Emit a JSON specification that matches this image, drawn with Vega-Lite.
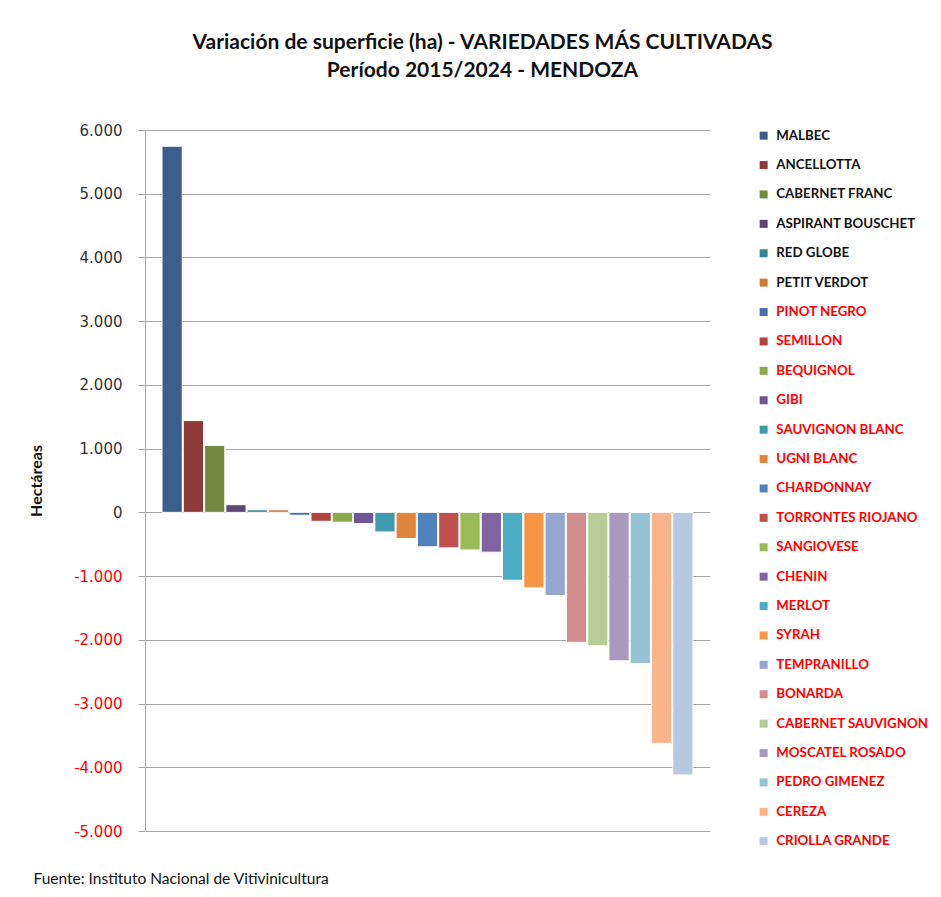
{
  "$schema": "https://vega.github.io/schema/vega-lite/v6.json",
  "width": 565,
  "height": 701,
  "autosize": {"type": "none"},
  "padding": {"left": 145, "top": 130, "right": 231, "bottom": 66},
  "background": "white",
  "config": {
    "locale": {"number": {"decimal": ",", "thousands": ".", "grouping": [3], "currency": ["$", ""], "minus": "-"}},
    "view": {"stroke": null},
    "font": "Lato"
  },
  "title": {
    "text": ["Variación de superficie (ha) - VARIEDADES MÁS CULTIVADAS", "Período 2015/2024 - MENDOZA"],
    "font": "Lato",
    "fontSize": 21,
    "fontWeight": "bold",
    "color": "#111111",
    "lineHeight": 28,
    "anchor": "middle",
    "dx": 55,
    "offset": 42
  },
  "data": {
    "values": [
      {"variedad": "MALBEC", "ha": 5745},
      {"variedad": "ANCELLOTTA", "ha": 1440},
      {"variedad": "CABERNET FRANC", "ha": 1050},
      {"variedad": "ASPIRANT BOUSCHET", "ha": 120},
      {"variedad": "RED GLOBE", "ha": 40},
      {"variedad": "PETIT VERDOT", "ha": 40},
      {"variedad": "PINOT NEGRO", "ha": -45},
      {"variedad": "SEMILLON", "ha": -140},
      {"variedad": "BEQUIGNOL", "ha": -155},
      {"variedad": "GIBI", "ha": -175},
      {"variedad": "SAUVIGNON BLANC", "ha": -307},
      {"variedad": "UGNI BLANC", "ha": -410},
      {"variedad": "CHARDONNAY", "ha": -540},
      {"variedad": "TORRONTES RIOJANO", "ha": -557},
      {"variedad": "SANGIOVESE", "ha": -590},
      {"variedad": "CHENIN", "ha": -625},
      {"variedad": "MERLOT", "ha": -1065},
      {"variedad": "SYRAH", "ha": -1185},
      {"variedad": "TEMPRANILLO", "ha": -1305},
      {"variedad": "BONARDA", "ha": -2040},
      {"variedad": "CABERNET SAUVIGNON", "ha": -2095},
      {"variedad": "MOSCATEL ROSADO", "ha": -2330},
      {"variedad": "PEDRO GIMENEZ", "ha": -2375},
      {"variedad": "CEREZA", "ha": -3625},
      {"variedad": "CRIOLLA GRANDE", "ha": -4120}
    ]
  },
  "mark": {"type": "bar", "stroke": "white", "strokeWidth": 1},
  "encoding": {
    "x": {
      "field": "variedad",
      "type": "nominal",
      "sort": null,
      "scale": {"paddingInner": 0.05, "paddingOuter": 0.8},
      "axis": {
        "labels": false,
        "ticks": false,
        "domain": false,
        "title": "Fuente: Instituto Nacional de Vitivinicultura",
        "titleFont": "Lato",
        "titleFontSize": 15.5,
        "titleFontWeight": "normal",
        "titleColor": "#111111",
        "titleAlign": "left",
        "titleAnchor": "start",
        "titleBaseline": "middle",
        "titleX": -112,
        "titleY": 47
      }
    },
    "y": {
      "field": "ha",
      "type": "quantitative",
      "scale": {"domain": [-5000, 6000], "nice": false, "zero": true},
      "axis": {
        "values": [-5000, -4000, -3000, -2000, -1000, 0, 1000, 2000, 3000, 4000, 5000, 6000],
        "format": ",d",
        "labelFont": "DejaVu Sans",
        "labelFontSize": 15,
        "labelColor": {"condition": {"test": "datum.value < 0", "value": "#FF0000"}, "value": "#333333"},
        "labelPadding": 16,
        "tickSize": 7,
        "tickColor": "#A6A6A6",
        "domainColor": "#A6A6A6",
        "gridColor": "#A6A6A6",
        "grid": true,
        "title": "Hectáreas",
        "titleFont": "Lato",
        "titleFontSize": 16,
        "titleFontWeight": "bold",
        "titleColor": "#111111",
        "titlePadding": 29
      }
    },
    "color": {
      "field": "variedad",
      "type": "nominal",
      "sort": null,
      "scale": {
        "range": ["#3B5E8C", "#8C3937", "#738B3F", "#5C4778", "#33839A", "#D07A35", "#4672A8", "#B04442", "#8AAA4B", "#6F5696", "#3F9AB0", "#E0843E", "#4F81BD", "#C0504D", "#9BBB59", "#8064A2", "#4BACC6", "#F79646", "#95A6CF", "#D38F8E", "#B8CD96", "#A99ABD", "#93C4D4", "#F9B48E", "#B9C8E1"]
      },
      "legend": {
        "title": null,
        "orient": "none",
        "legendX": 612,
        "legendY": -1,
        "symbolType": "square",
        "symbolSize": 64,
        "symbolStrokeWidth": 0,
        "labelFont": "Lato",
        "labelFontSize": 13.3,
        "labelFontWeight": "bold",
        "labelLimit": 300,
        "labelOffset": 6,
        "rowPadding": 15.4,
        "labelColor": {"expr": "indexof(['MALBEC','ANCELLOTTA','CABERNET FRANC','ASPIRANT BOUSCHET','RED GLOBE','PETIT VERDOT'], datum.value) >= 0 ? '#111111' : '#FF0000'"}
      }
    }
  }
}
